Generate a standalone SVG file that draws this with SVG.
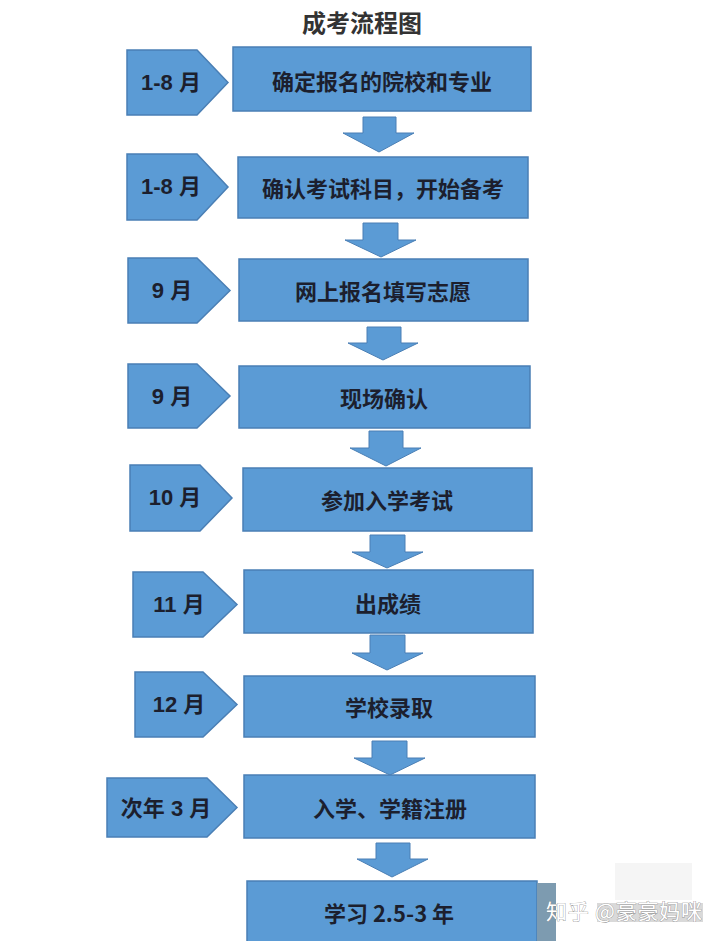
<svg xmlns="http://www.w3.org/2000/svg" width="720" height="941" viewBox="0 0 720 941">
<style>
.shape{fill:#5b9bd5;stroke:#4a7fb5;stroke-width:1.5}
.arrow{fill:#5b9bd5;stroke:#4a7fb5;stroke-width:1}
.lbl{font-family:"Liberation Sans","Noto Sans CJK SC",sans-serif;font-weight:bold;font-size:22px;fill:#1c1f2e;text-anchor:middle;dominant-baseline:central}
.txt{font-family:"Noto Sans CJK SC",sans-serif;font-weight:bold;font-size:22px;fill:#1c1f2e;text-anchor:middle;dominant-baseline:central}
.title{font-family:"Noto Sans CJK SC",sans-serif;font-weight:bold;font-size:24px;fill:#333;text-anchor:middle}
.wm{font-family:"Noto Sans CJK SC",sans-serif;font-size:21px;fill:#fff;stroke:#8a8a8a;stroke-width:0.7;paint-order:stroke}
</style>
<rect width="720" height="941" fill="#fff"/>
<text class="title" x="362" y="32">成考流程图</text>

<g id="connectors">
<path class="arrow" d="M363,117H396V133H414L379,152L343,133H363Z"/>
<path class="arrow" d="M363,223H398V240H416L381,257L345,240H363Z"/>
<path class="arrow" d="M367,327H401V343H418L383,360L348,343H367Z"/>
<path class="arrow" d="M369,431H403V448H421L386,466L350,448H369Z"/>
<path class="arrow" d="M370,535H405V552H423L387,568L352,552H370Z"/>
<path class="arrow" d="M370,635H405V653H423L387,670L352,653H370Z"/>
<path class="arrow" d="M372,741H407V758H425L390,775L354,758H372Z"/>
<path class="arrow" d="M376,843H410V859H428L392,877L357,859H376Z"/>
</g>

<g id="row1">
<path class="shape" d="M127,50H197L228,82.5L197,115H127Z"/>
<text class="lbl" x="171" y="82">1-8 月</text>
<rect class="shape" x="233" y="47" width="298" height="64"/>
<text class="txt" x="382" y="80">确定报名的院校和专业</text>
</g>
<g id="row2">
<path class="shape" d="M127,154H197L228,187L197,220H127Z"/>
<text class="lbl" x="171" y="186">1-8 月</text>
<rect class="shape" x="238" y="157" width="290" height="61"/>
<text class="txt" x="383" y="187">确认考试科目，开始备考</text>
</g>
<g id="row3">
<path class="shape" d="M128,258H197L230,290.5L197,323H128Z"/>
<text class="lbl" x="172" y="290">9 月</text>
<rect class="shape" x="239" y="259" width="289" height="62"/>
<text class="txt" x="383" y="290">网上报名填写志愿</text>
</g>
<g id="row4">
<path class="shape" d="M128,364H197L230,396L197,428H128Z"/>
<text class="lbl" x="172" y="396">9 月</text>
<rect class="shape" x="239" y="366" width="291" height="62"/>
<text class="txt" x="384" y="397">现场确认</text>
</g>
<g id="row5">
<path class="shape" d="M130,465H200L232,498L200,531H130Z"/>
<text class="lbl" x="175" y="497">10 月</text>
<rect class="shape" x="243" y="468" width="289" height="63"/>
<text class="txt" x="387" y="499">参加入学考试</text>
</g>
<g id="row6">
<path class="shape" d="M133,572H203L237,604.5L203,637H133Z"/>
<text class="lbl" x="179" y="604">11 月</text>
<rect class="shape" x="244" y="570" width="289" height="63"/>
<text class="txt" x="388" y="602">出成绩</text>
</g>
<g id="row7">
<path class="shape" d="M135,672H203L237,704.5L203,737H135Z"/>
<text class="lbl" x="179" y="704">12 月</text>
<rect class="shape" x="244" y="676" width="291" height="61"/>
<text class="txt" x="389" y="706">学校录取</text>
</g>
<g id="row8">
<path class="shape" d="M107,778H207L237,807.5L207,837H107Z"/>
<text class="lbl" x="166" y="808">次年 3 月</text>
<rect class="shape" x="244" y="775" width="291" height="63"/>
<text class="txt" x="390" y="807">入学、学籍注册</text>
</g>
<g id="row9">
<rect class="shape" x="247" y="881" width="290" height="70"/>
<text class="txt" x="389" y="912">学习 2.5-3 年</text>
</g>

<g id="watermark">
<rect x="537" y="883" width="19" height="58" fill="#7d9bb0"/>
<rect x="615" y="863" width="77" height="37" fill="#f5f5f5"/>
<rect x="597" y="903" width="106" height="19" fill="#d9d9d9"/>
<text class="wm" x="546" y="919" textLength="156">知乎 @豪豪妈咪</text>
</g>
</svg>
